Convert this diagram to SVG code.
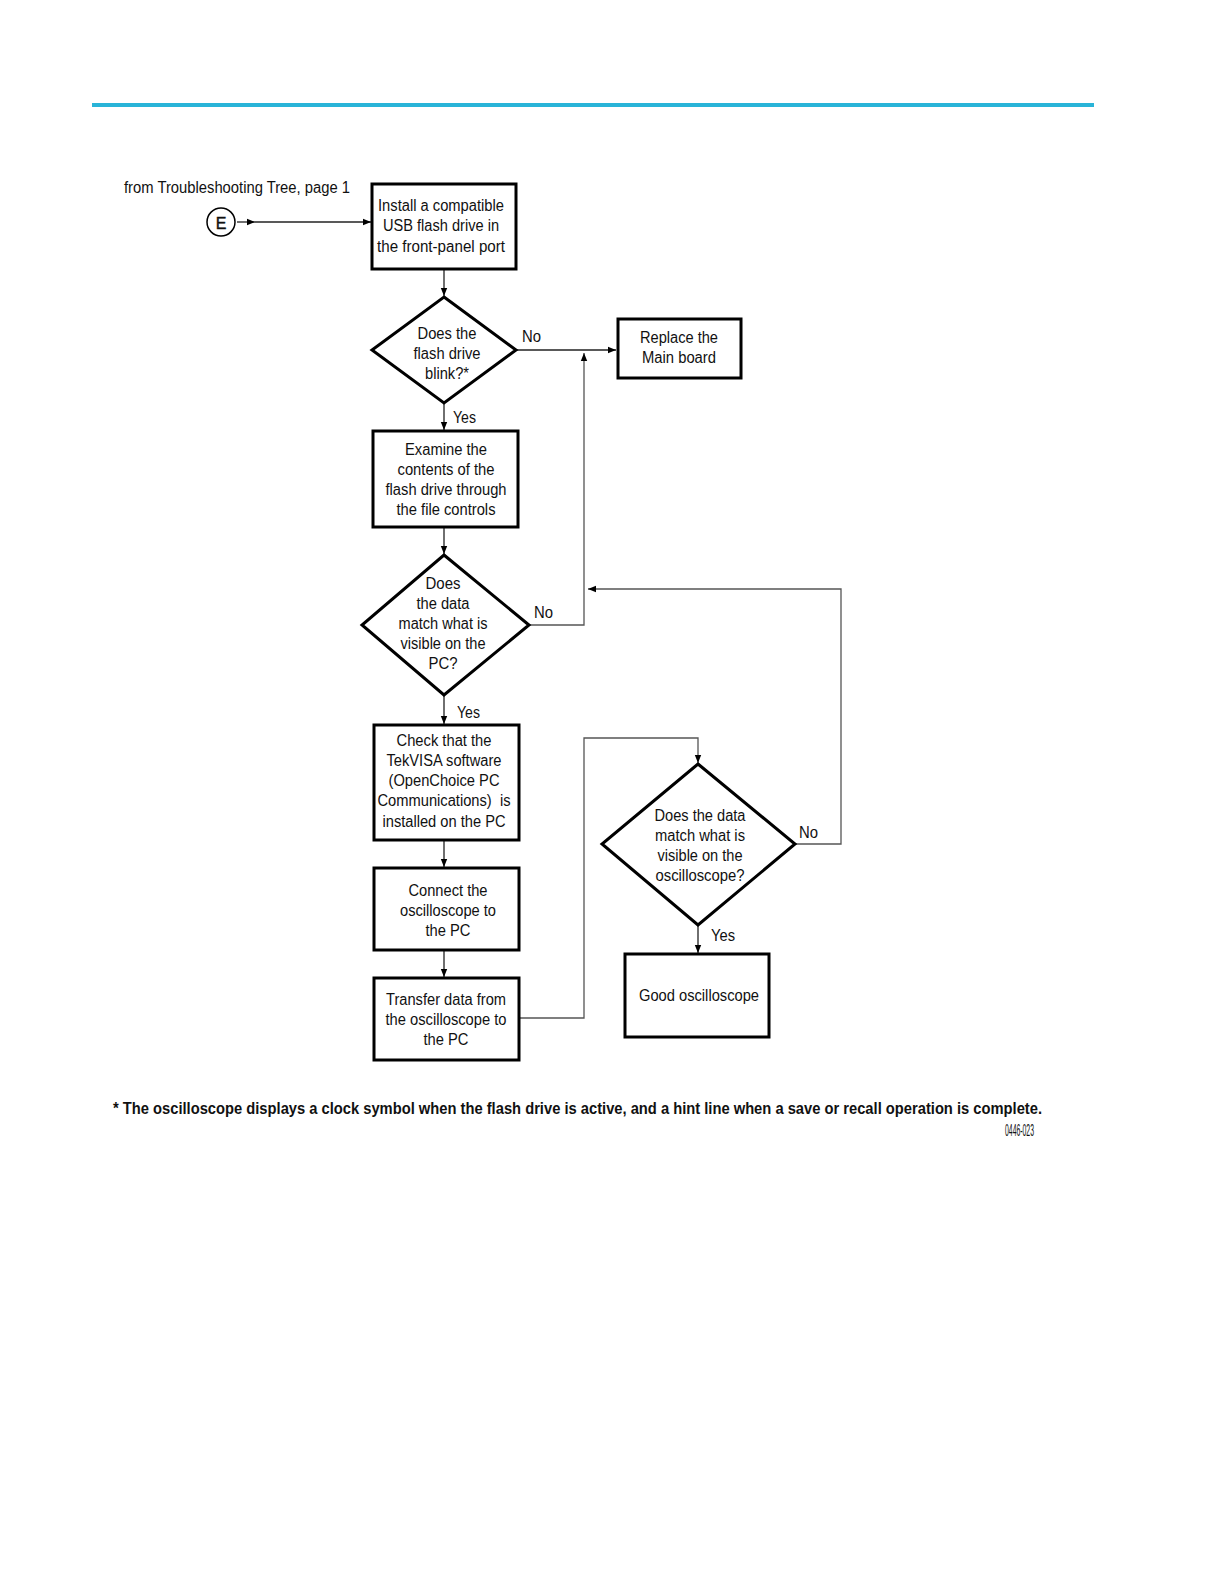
<svg xmlns="http://www.w3.org/2000/svg" width="1224" height="1584" viewBox="0 0 1224 1584">
<style>
.t{font-family:"Liberation Sans",Arial,sans-serif;font-size:16px;fill:#111;text-anchor:middle}
.l{font-family:"Liberation Sans",Arial,sans-serif;font-size:16px;fill:#111}
.box{fill:#fff;stroke:#000;stroke-width:3}
.c{fill:none;stroke:#222;stroke-width:1.3}
.g{fill:none;stroke:#555;stroke-width:1.3}
</style>
<defs>
<marker id="ah" viewBox="0 0 10 10" refX="10" refY="5" markerWidth="10" markerHeight="8" markerUnits="userSpaceOnUse" orient="auto">
<path d="M0,1 L10,5 L0,9 z" fill="#000"/>
</marker>
</defs>
<rect x="92" y="103" width="1002" height="4" fill="#29b4d8"/>

<g id="connectors">
<line class="c" x1="237" y1="222" x2="255" y2="222" marker-end="url(#ah)"/>
<line class="c" x1="255" y1="222" x2="371" y2="222" marker-end="url(#ah)"/>
<line class="c" x1="444" y1="270" x2="444" y2="296" marker-end="url(#ah)"/>
<line class="c" x1="517" y1="350" x2="616" y2="350" marker-end="url(#ah)"/>
<line class="c" x1="444" y1="404" x2="444" y2="430" marker-end="url(#ah)"/>
<line class="c" x1="444" y1="528" x2="444" y2="554" marker-end="url(#ah)"/>
<polyline class="g" points="530,625 584,625 584,353" marker-end="url(#ah)"/>
<line class="c" x1="444" y1="696" x2="444" y2="724" marker-end="url(#ah)"/>
<line class="c" x1="444" y1="841" x2="444" y2="867" marker-end="url(#ah)"/>
<line class="c" x1="444" y1="951" x2="444" y2="977" marker-end="url(#ah)"/>
<polyline class="g" points="520,1018 584,1018 584,738 698,738 698,763" marker-end="url(#ah)"/>
<polyline class="g" points="796,844 841,844 841,589 588,589" marker-end="url(#ah)"/>
<line class="c" x1="698" y1="926" x2="698" y2="953" marker-end="url(#ah)"/>
<text class="l" x="522" y="342" textLength="19" lengthAdjust="spacingAndGlyphs">No</text>
<text class="l" x="453" y="423" textLength="23" lengthAdjust="spacingAndGlyphs">Yes</text>
<text class="l" x="534" y="618" textLength="19" lengthAdjust="spacingAndGlyphs">No</text>
<text class="l" x="457" y="718" textLength="23" lengthAdjust="spacingAndGlyphs">Yes</text>
<text class="l" x="799" y="838" textLength="19" lengthAdjust="spacingAndGlyphs">No</text>
<text class="l" x="711" y="941" textLength="24" lengthAdjust="spacingAndGlyphs">Yes</text>
</g>

<g id="start">
<text class="l" x="124" y="193" textLength="226" lengthAdjust="spacingAndGlyphs">from Troubleshooting Tree, page 1</text>
<circle cx="221" cy="222" r="14" fill="#fff" stroke="#000" stroke-width="1.5"/>
<text class="t" x="221" y="229" font-size="19" stroke="#111" stroke-width="0.4">E</text>
</g>

<g id="install">
<rect class="box" x="372" y="184" width="144" height="85"/>
<text class="t" x="441" y="211" textLength="126" lengthAdjust="spacingAndGlyphs">Install a compatible</text>
<text class="t" x="441" y="231" textLength="116" lengthAdjust="spacingAndGlyphs">USB flash drive in</text>
<text class="t" x="441" y="252" textLength="128" lengthAdjust="spacingAndGlyphs">the front-panel port</text>
</g>

<g id="blink">
<polygon points="444,297 516,350 444,403 372,350" fill="#fff" stroke="#000" stroke-width="3" stroke-linejoin="miter"/>
<text class="t" x="447" y="339" textLength="59" lengthAdjust="spacingAndGlyphs">Does the</text>
<text class="t" x="447" y="359" textLength="67" lengthAdjust="spacingAndGlyphs">flash drive</text>
<text class="t" x="447" y="379" textLength="44" lengthAdjust="spacingAndGlyphs">blink?*</text>
</g>

<g id="replace">
<rect class="box" x="618" y="319" width="123" height="59"/>
<text class="t" x="679" y="343" textLength="78" lengthAdjust="spacingAndGlyphs">Replace the</text>
<text class="t" x="679" y="363" textLength="74" lengthAdjust="spacingAndGlyphs">Main board</text>
</g>

<g id="examine">
<rect class="box" x="373" y="431" width="145" height="96"/>
<text class="t" x="446" y="455" textLength="82" lengthAdjust="spacingAndGlyphs">Examine the</text>
<text class="t" x="446" y="475" textLength="97" lengthAdjust="spacingAndGlyphs">contents of the</text>
<text class="t" x="446" y="495" textLength="121" lengthAdjust="spacingAndGlyphs">flash drive through</text>
<text class="t" x="446" y="515" textLength="99" lengthAdjust="spacingAndGlyphs">the file controls</text>
</g>

<g id="matchpc">
<polygon points="444,555 529,625 444,695 362,625" fill="#fff" stroke="#000" stroke-width="3"/>
<text class="t" x="443" y="589" textLength="35" lengthAdjust="spacingAndGlyphs">Does</text>
<text class="t" x="443" y="609" textLength="53" lengthAdjust="spacingAndGlyphs">the data</text>
<text class="t" x="443" y="629" textLength="89" lengthAdjust="spacingAndGlyphs">match what is</text>
<text class="t" x="443" y="649" textLength="85" lengthAdjust="spacingAndGlyphs">visible on the</text>
<text class="t" x="443" y="669" textLength="29" lengthAdjust="spacingAndGlyphs">PC?</text>
</g>

<g id="tekvisa">
<rect class="box" x="374" y="725" width="145" height="115"/>
<text class="t" x="444" y="746" textLength="95" lengthAdjust="spacingAndGlyphs">Check that the</text>
<text class="t" x="444" y="766" textLength="115" lengthAdjust="spacingAndGlyphs">TekVISA software</text>
<text class="t" x="444" y="786" textLength="111" lengthAdjust="spacingAndGlyphs">(OpenChoice PC</text>
<text class="t" x="444" y="806" textLength="133" lengthAdjust="spacingAndGlyphs" xml:space="preserve">Communications)  is</text>
<text class="t" x="444" y="827" textLength="123" lengthAdjust="spacingAndGlyphs">installed on the PC</text>
</g>

<g id="connect">
<rect class="box" x="374" y="868" width="145" height="82"/>
<text class="t" x="448" y="896" textLength="79" lengthAdjust="spacingAndGlyphs">Connect the</text>
<text class="t" x="448" y="916" textLength="96" lengthAdjust="spacingAndGlyphs">oscilloscope to</text>
<text class="t" x="448" y="936" textLength="45" lengthAdjust="spacingAndGlyphs">the PC</text>
</g>

<g id="transfer">
<rect class="box" x="374" y="978" width="145" height="82"/>
<text class="t" x="446" y="1005" textLength="120" lengthAdjust="spacingAndGlyphs">Transfer data from</text>
<text class="t" x="446" y="1025" textLength="121" lengthAdjust="spacingAndGlyphs">the oscilloscope to</text>
<text class="t" x="446" y="1045" textLength="45" lengthAdjust="spacingAndGlyphs">the PC</text>
</g>

<g id="matchscope">
<polygon points="698,764 795,844 698,925 602,844" fill="#fff" stroke="#000" stroke-width="3"/>
<text class="t" x="700" y="821" textLength="91" lengthAdjust="spacingAndGlyphs">Does the data</text>
<text class="t" x="700" y="841" textLength="90" lengthAdjust="spacingAndGlyphs">match what is</text>
<text class="t" x="700" y="861" textLength="85" lengthAdjust="spacingAndGlyphs">visible on the</text>
<text class="t" x="700" y="881" textLength="89" lengthAdjust="spacingAndGlyphs">oscilloscope?</text>
</g>

<g id="good">
<rect class="box" x="625" y="954" width="144" height="83"/>
<text class="t" x="699" y="1001" textLength="120" lengthAdjust="spacingAndGlyphs">Good oscilloscope</text>
</g>

<g id="footnote">
<text class="l" x="113" y="1114" font-weight="bold" textLength="929" lengthAdjust="spacingAndGlyphs">* The oscilloscope displays a clock symbol when the flash drive is active, and a hint line when a save or recall operation is complete.</text>
<text class="l" x="1005" y="1136" font-size="6" fill="#555" textLength="29" lengthAdjust="spacingAndGlyphs">0446-023</text>
</g>
</svg>
